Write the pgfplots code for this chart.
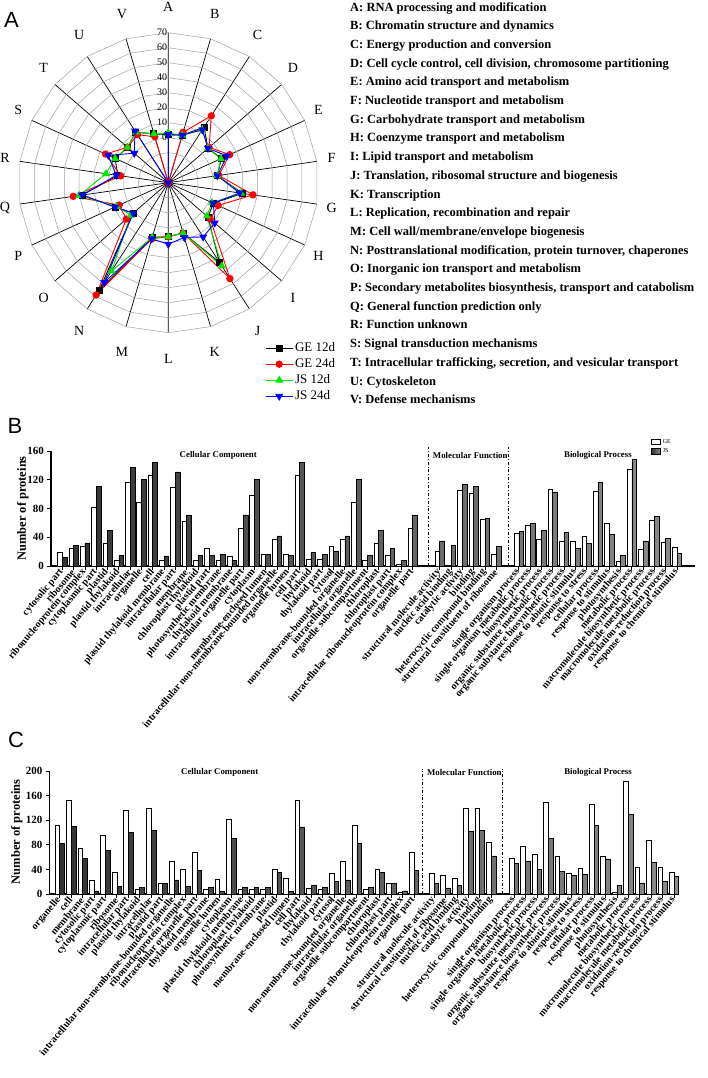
\documentclass[border=0pt]{standalone}
\usepackage{fontspec}
\setmainfont{Liberation Serif}
\newfontfamily\arial{Liberation Sans}
\usepackage{pgfplots}
\usepackage{pgfplotstable}
\usepgfplotslibrary{polar}
\pgfplotsset{compat=1.18}

\definecolor{ge24}{RGB}{255,0,0}
\definecolor{js12}{RGB}{0,230,0}
\definecolor{js24}{RGB}{0,0,255}

% radar: angle (A at top, clockwise), counts per COG class
% the radial axis runs from -30 (centre) to 70
\pgfplotstableread{
ang ge12 ge24 js12 js24
90 2 -30 3 2
73.636 3 5 3 3
57.273 14 23 12 12
40.909 5 6 5 5
24.545 9 15 8.5 13
8.182 3 4 3 3
-8.182 20 27 19 18
-24.545 3 6.5 2 3
-40.909 5 7 4 11
-57.273 33 46 36 13
-73.636 5 5 5 8
-90 6 6 6 11
-106.364 8 9 8 9
-122.727 55 59 40 49
-139.091 1 7 3 1
-155.455 9 6 8 9
-171.818 28 34 30 28
-188.182 4 2 12 5
-204.545 9 16 9 14
-220.909 6 6 6 0
-237.273 10 8 10 11
-253.636 4 2 4 -30
-270 2 -30 3 2
}\radar

\pgfplotstableread[col sep=comma]{
x,label,ge,js
0,cytosolic part,19,12
1,ribosome,24,29
2,ribonucleoprotein complex,27,32
3,cytoplasmic part,81,111
4,plastid,32,50
5,plastid thylakoid,8,15
6,intracellular,116,137
7,organelle,89,120
8,cell,126,144
9,plastid thylakoid membrane,8,14
10,intracellular part,110,131
11,membrane,62,71
12,chloroplast thylakoid,8,15
13,plastid part,24,15
14,photosynthetic membrane,8,16
15,thylakoid membrane,14,8
16,intracellular organelle part,53,71
17,cytoplasm,99,121
18,membrane-enclosed lumen,16,16
19,intracellular non-membrane-bounded organelle,37,42
20,organelle lumen,16,15
21,cell part,126,144
22,thylakoid,10,19
23,thylakoid part,9,16
24,cytosol,28,21
25,non-membrane-bounded organelle,37,42
26,intracellular organelle,89,120
27,organelle subcompartment,8,15
28,chloroplast,32,49
29,chloroplast part,15,24
30,intracellular ribonucleoprotein complex,3,8
31,organelle part,53,71
33.4,structural molecule activity,21,35
34.4,nucleic acid binding,0,29
35.4,catalytic activity,105,114
36.4,binding,101,111
37.4,heterocyclic compound binding,65,66
38.4,structural constituent of ribosome,16,27
40.4,single organism process,45,48
41.4,single organism metabolic process,57,59
42.4,biosynthetic process,37,49
43.4,organic substance metabolic process,107,102
44.4,organic substance biosynthetic process,35,47
45.4,response to abiotic stimulus,34,24
46.4,response to stress,42,31
47.4,cellular process,104,117
48.4,response to stimulus,60,44
49.4,photosynthesis,7,15
50.4,metabolic process,135,148
51.4,macromolecule biosynthetic process,23,35
52.4,macromolecule metabolic process,63,69
53.4,oxidation-reduction process,33,38
54.4,response to chemical stimulus,26,17
}\tabB

\pgfplotstableread[col sep=comma]{
x,label,ge,js
0,organelle,111,82
1,cell,153,110
2,membrane,75,58
3,cytosolic part,22,5
4,cytoplasmic part,95,71
5,ribosome,36,12
6,intracellular part,136,100
7,plastid thylakoid,7,11
8,intracellular,140,103
9,plastid part,17,17
10,intracellular non-membrane-bounded organelle,54,23
11,ribonucleoprotein complex,40,12
12,intracellular organelle part,68,39
13,thylakoid membrane,8,11
14,organelle lumen,24,4
15,cytoplasm,121,90
16,plastid thylakoid membrane,8,11
17,chloroplast thylakoid,8,11
18,photosynthetic membrane,8,11
19,plastid,40,35
20,membrane-enclosed lumen,25,4
21,cell part,152,109
22,thylakoid,10,14
23,thylakoid part,8,11
24,cytosol,33,20
25,non-membrane-bounded organelle,54,23
26,intracellular organelle,111,82
27,organelle subcompartment,8,11
28,chloroplast,40,35
29,chloroplast part,17,17
30,intracellular ribonucleoprotein complex,3,5
31,organelle part,68,39
32.75,structural molecule activity,34,17
33.75,structural constituent of ribosome,30,10
34.75,nucleic acid binding,25,14
35.75,catalytic activity,140,102
36.75,binding,139,104
37.75,heterocyclic compound binding,84,62
39.75,single organism process,58,50
40.75,single organism metabolic process,78,54
41.75,biosynthetic process,65,40
42.75,organic substance metabolic process,149,90
43.75,organic substance biosynthetic process,62,37
44.75,response to abiotic stimulus,33,30
45.75,response to stress,42,32
46.75,cellular process,146,111
47.75,response to stimulus,62,57
48.75,photosynthesis,3,14
49.75,metabolic process,183,130
50.75,macromolecule biosynthetic process,44,18
51.75,macromolecule metabolic process,87,52
52.75,oxidation-reduction process,44,21
53.75,response to chemical stimulus,35,28
}\tabC

\pgfplotsset{
  barchart/.style={
    axis lines*=left, axis line style={line width=1.1pt},
    tick style={black, line width=0.8pt}, major tick length=3.5pt,
    tick align=outside,
    xtick=data,
    xticklabel style={rotate=50, anchor=east, inner sep=1pt,
      font=\bfseries\fontsize{10}{10}\selectfont},
    yticklabel style={font=\bfseries\fontsize{11}{11}\selectfont},
    /pgf/number format/assume math mode=true,
    clip=false,
  },
  gebar/.style={ybar, bar width=4.7pt, bar shift=-2.35pt, fill=white, draw=black, line width=0.6pt},
  jsbar/.style={ybar, bar width=4.7pt, bar shift=2.35pt, left color=black!80, right color=black!45, draw=black, line width=0.6pt},
}

\begin{document}
\begin{tikzpicture}
\path[use as bounding box] (0,0) rectangle (708pt,-1078pt);

% ---------------- A: radar ----------------
\begin{polaraxis}[
  at={(168.3pt,-182.7pt)}, anchor=origin,
  width=300pt, height=300pt, scale only axis,
  ymin=0, ymax=100,
  xtick={8.1818,24.5454,...,352}, xticklabels={},
  ytick=\empty,
  xmajorgrids, major grid style={black, line width=0.7pt},
  axis line style={draw=none},
  major tick length=0pt,
  clip=false,
  legend style={at={(axis description cs:0.813,-0.02)}, anchor=north west,
    draw=none, fill=none, font=\fontsize{13}{14}\selectfont, row sep=1.5pt},
  legend cell align=left,
  legend image code/.code={\draw[mark repeat=2, mark phase=2, #1]
    plot coordinates {(0cm,0cm) (0.47cm,0cm) (0.94cm,0cm)};},
]
\pgfplotsinvokeforeach{10,20,...,100}{
  \addplot[gray!75, line width=0.5pt, no markers, domain=8.1818:368.1818, samples=23, forget plot] {#1};
}
\addplot[black, line width=0.9pt, mark=square*, mark size=3pt] table[x=ang, y expr=\thisrow{ge12}+30] {\radar};
\addlegendentry{GE 12d}
\addplot[ge24, line width=0.9pt, mark=*, mark size=3.2pt] table[x=ang, y expr=\thisrow{ge24}+30] {\radar};
\addlegendentry{GE 24d}
\addplot[js12, line width=0.9pt, mark=triangle*, mark size=3.8pt] table[x=ang, y expr=\thisrow{js12}+30] {\radar};
\addlegendentry{JS 12d}
\addplot[js24, line width=0.9pt, mark=triangle*, mark options={rotate=180}, mark size=3.8pt] table[x=ang, y expr=\thisrow{js24}+30] {\radar};
\addlegendentry{JS 24d}
\end{polaraxis}

% radial scale along the A spoke (1.5pt per unit, centre = -30)
\foreach \v in {70,60,50,40,30,20,10,0}
  \node[anchor=east, inner sep=1pt, font=\fontsize{10}{10}\selectfont, fill=white, fill opacity=0, text opacity=1]
    at (168.3pt, {-182.7pt+(\v+30)*1.5pt}) {\v};

\foreach \l [count=\i from 0] in {A,B,...,V}
  \node[font=\fontsize{14}{14}\selectfont] at ({168.3pt+165pt*sin(\i*16.3636)}, {-182.7pt+176pt*cos(\i*16.3636)}) {\l};

\node[font=\arial\fontsize{22}{22}\selectfont] at (11.5pt,-20pt) {A};

\node[anchor=north west, align=left, inner sep=0pt, font=\bfseries\fontsize{12.5}{18.7}\selectfont] at (350pt,-2pt) {%
A: RNA processing and modification\\
B: Chromatin structure and dynamics\\
C: Energy production and conversion\\
D: Cell cycle control, cell division, chromosome partitioning\\
E: Amino acid transport and metabolism\\
F: Nucleotide transport and metabolism\\
G: Carbohydrate transport and metabolism\\
H: Coenzyme transport and metabolism\\
I: Lipid transport and metabolism\\
J: Translation, ribosomal structure and biogenesis\\
K: Transcription\\
L: Replication, recombination and repair\\
M: Cell wall/membrane/envelope biogenesis\\
N: Posttranslational modification, protein turnover, chaperones\\
O: Inorganic ion transport and metabolism\\
P: Secondary metabolites biosynthesis, transport and catabolism\\
Q: General function prediction only\\
R: Function unknown\\
S: Signal transduction mechanisms\\
T: Intracellular trafficking, secretion, and vesicular transport\\
U: Cytoskeleton\\
V: Defense mechanisms};

% ---------------- B ----------------
\node[font=\arial\fontsize{22}{22}\selectfont] at (15pt,-426pt) {B};
\begin{axis}[
  barchart,
  at={(62.3pt,-566pt)}, anchor=origin,
  x=11.3pt, y=0.719pt,
  xmin=-1, xmax=56, ymin=0, ymax=160,
  ytick={0,40,...,160},
  xticklabels from table={\tabB}{label},
  legend style={at={(axis description cs:0.93,1.13)}, anchor=north west,
    draw=none, fill=none, font=\fontsize{6}{6}\selectfont, row sep=0pt, inner sep=1pt},
  legend cell align=left,
  legend image code/.code={\draw[#1] (0pt,-2.5pt) rectangle (9pt,3pt);},
]
\addplot[gebar] table[x=x, y=ge] {\tabB};
\addlegendentry{GE}
\addplot[jsbar] table[x=x, y=js] {\tabB};
\addlegendentry{JS}
\addplot[sharp plot, black, line width=0.8pt, dash dot, forget plot] coordinates {(32.4,0) (32.4,166)};
\addplot[sharp plot, black, line width=0.8pt, dash dot, forget plot] coordinates {(39.5,0) (39.5,166)};
\node[font=\bfseries\fontsize{8.8}{9}\selectfont] at (axis cs:13.8,154) {Cellular Component};
\node[font=\bfseries\fontsize{8.8}{9}\selectfont] at (axis cs:36.1,154) {Molecular Function};
\node[font=\bfseries\fontsize{8.8}{9}\selectfont] at (axis cs:47.4,154) {Biological Process};
\node[rotate=90, font=\bfseries\fontsize{12.5}{13}\selectfont] at (axis cs:-3.5,80) {Number of proteins};
\end{axis}

% ---------------- C ----------------
\node[font=\arial\fontsize{22}{22}\selectfont] at (16pt,-740pt) {C};
\begin{axis}[
  barchart,
  at={(59.7pt,-894pt)}, anchor=origin,
  x=11.43pt, y=0.615pt,
  xmin=-0.9, xmax=54.1, ymin=0, ymax=200,
  ytick={0,40,...,200},
  xticklabels from table={\tabC}{label},
]
\addplot[gebar] table[x=x, y=ge] {\tabC};
\addplot[jsbar] table[x=x, y=js] {\tabC};
\addplot[sharp plot, black, line width=0.8pt, dash dot, forget plot] coordinates {(31.75,0) (31.75,203)};
\addplot[sharp plot, black, line width=0.8pt, dash dot, forget plot] coordinates {(38.75,0) (38.75,203)};
\node[font=\bfseries\fontsize{8.8}{9}\selectfont] at (axis cs:14,198) {Cellular Component};
\node[font=\bfseries\fontsize{8.8}{9}\selectfont] at (axis cs:35.4,198) {Molecular Function};
\node[font=\bfseries\fontsize{8.8}{9}\selectfont] at (axis cs:47.1,198) {Biological Process};
\node[rotate=90, font=\bfseries\fontsize{12.5}{13}\selectfont] at (axis cs:-3.75,101) {Number of proteins};
\end{axis}
\end{tikzpicture}
\end{document}
